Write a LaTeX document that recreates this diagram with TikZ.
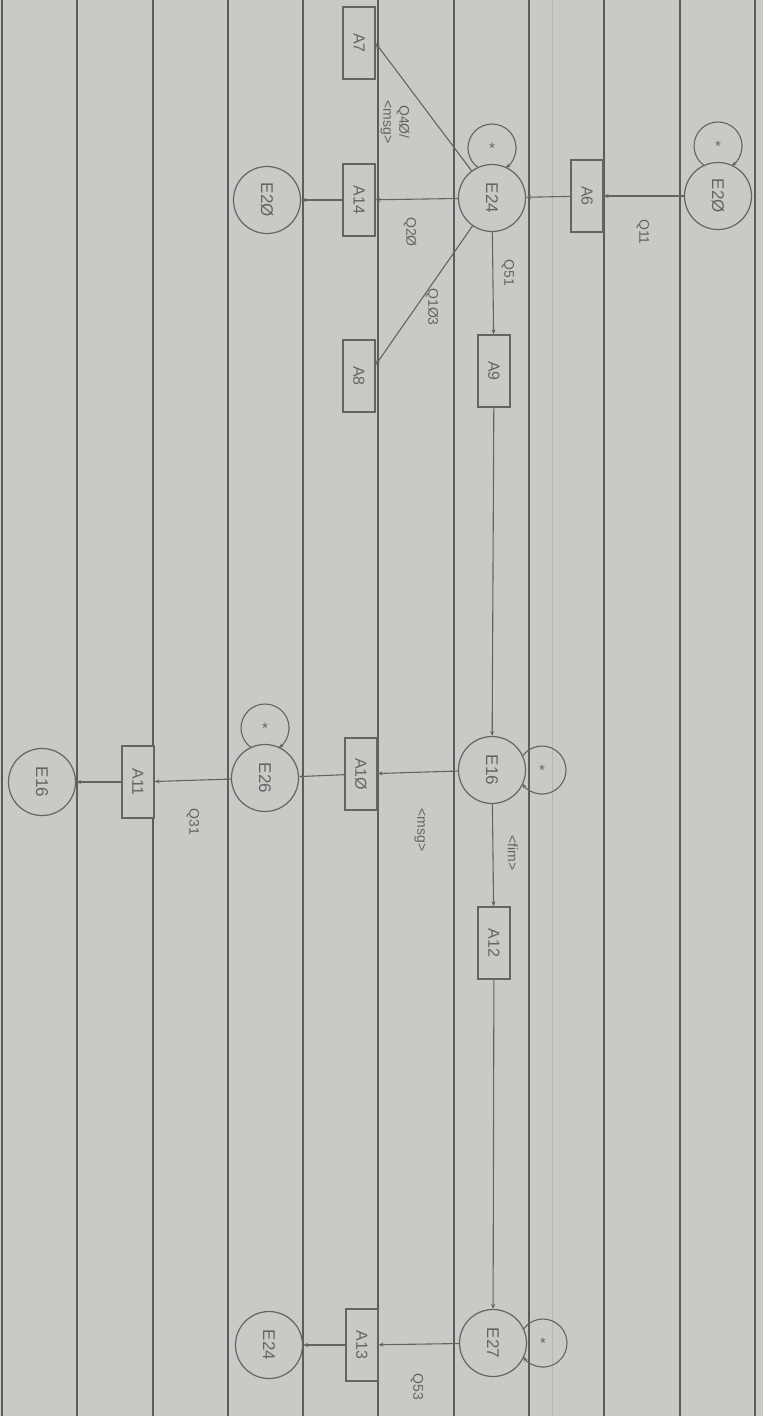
\documentclass[tikz,border=0pt]{standalone}
\usepackage{fontspec}
\usepackage{graphicx}
\setmainfont{Liberation Sans}
\usetikzlibrary{arrows.meta}
\definecolor{paper}{RGB}{201,201,198}
\definecolor{rulec}{RGB}{92,92,92}
\definecolor{faintc}{RGB}{182,182,180}
\definecolor{ink}{RGB}{100,100,100}
\newcommand{\rt}[1]{\rotatebox{-90}{#1}}
\begin{document}
\begin{tikzpicture}[x=1pt,y=-1pt,
  circ/.style={circle,draw=ink,line width=1.2pt,fill=paper,minimum size=67pt,inner sep=0pt,text=ink,font=\fontsize{17}{19}\selectfont},
  actbox/.style={rectangle,draw=ink,line width=1.2pt,fill=paper,minimum width=32pt,minimum height=72pt,inner sep=0pt,text=ink,font=\fontsize{16}{18}\selectfont},
  lab/.style={rotate=-90,text=ink,font=\fontsize{14}{16}\selectfont,inner sep=1pt},
  star/.style={text=ink,font=\fontsize{15}{15}\selectfont,inner sep=0pt},
  conn/.style={draw=ink,line width=1.1pt,-{Stealth[length=5pt,width=4pt]}},
  rulel/.style={draw=rulec,line width=1.3pt},
  faintl/.style={draw=faintc,line width=1pt}]
\fill[paper] (0,0) rectangle (763,1416);
\useasboundingbox (0,0) rectangle (763,1416);
% ruled lines
\foreach \x in {2,77,153,228,303,378,454,529,604,680,755}
  \draw[rulel] (\x,0) -- (\x,1416);
\draw[faintl] (552,0) -- (552,1416);

% nodes
\node[circ] (E20r) at (718,196) {\rt{E2Ø}};
\node[actbox] (A6) at (587,196) {\rt{A6}};
\node[circ] (E24) at (492,198) {\rt{E24}};
\node[actbox] (A14) at (359,200) {\rt{A14}};
\node[circ] (E20l) at (267,200) {\rt{E2Ø}};
\node[actbox] (A7) at (359,43) {\rt{A7}};
\node[actbox] (A8) at (359,376) {\rt{A8}};
\node[actbox] (A9) at (494,371) {\rt{A9}};
\node[circ] (E16) at (492,770) {\rt{E16}};
\node[actbox] (A10) at (361,774) {\rt{A1Ø}};
\node[circ] (E26) at (265,778) {\rt{E26}};
\node[actbox] (A11) at (138,782) {\rt{A11}};
\node[circ] (E16l) at (42,782) {\rt{E16}};
\node[actbox] (A12) at (494,943) {\rt{A12}};
\node[circ] (E27) at (493,1343) {\rt{E27}};
\node[actbox] (A13) at (362,1345) {\rt{A13}};
\node[circ] (E24b) at (269,1345) {\rt{E24}};

% connectors
\draw[conn] (E20r) -- (A6);
\draw[conn] (A6) -- (E24);
\draw[conn] (E24) -- (A14);
\draw[conn] (A14) -- (E20l);
\draw[conn] (E24) -- (A7.east);
\draw[conn] (E24) -- ([yshift=11pt]A8.east);
\draw[conn] (E24) -- (A9);
\draw[conn] (A9) -- (E16);
\draw[conn] (E16) -- (A10);
\draw[conn] (A10) -- (E26);
\draw[conn] (E26) -- (A11);
\draw[conn] (A11) -- (E16l);
\draw[conn] (E16) -- (A12);
\draw[conn] (A12) -- (E27);
\draw[conn] (E27) -- (A13);
\draw[conn] (A13) -- (E24b);

% self loops (up: start offset (-13.4,-30.1); right: (30.1,-13.4))
\path (E20r.center) ++(-13.4,-30.1) coordinate (l1s);
\draw[conn] (l1s) arc[start angle=124,end angle=416,radius=24];
\node[star] (s1) at ([yshift=50pt]E20r.center) {*};
\path (E24.center) ++(-13.4,-30.1) coordinate (l2s);
\draw[conn] (l2s) arc[start angle=124,end angle=416,radius=24];
\node[star] (s2) at ([yshift=50pt]E24.center) {*};
\path (E26.center) ++(-13.4,-30.1) coordinate (l3s);
\draw[conn] (l3s) arc[start angle=124,end angle=416,radius=24];
\node[star] (s3) at ([yshift=50pt]E26.center) {*};
\path (E16.center) ++(30.1,-13.4) coordinate (l4s);
\draw[conn] (l4s) arc[start angle=214,end angle=506,radius=24];
\node[star] (s4) at ([xshift=50pt]E16.center) {*};
\path (E27.center) ++(30.1,-13.4) coordinate (l5s);
\draw[conn] (l5s) arc[start angle=214,end angle=506,radius=24];
\node[star] (s5) at ([xshift=50pt]E27.center) {*};

% labels
\node[lab] (q11) at (643,232) {Q11};
\node[lab,align=center] (q40) at (395,122) {Q4Ø/\\<msg>};
\node[lab] (q20) at (410,232) {Q2Ø};
\node[lab] (q103) at (432,307) {Q1Ø3};
\node[lab] (q51) at (508,273) {Q51};
\node[lab] (msg2) at (420,830) {<msg>};
\node[lab] (fim) at (513,853) {<fim>};
\node[lab] (q31) at (193,822) {Q31};
\node[lab] (q53) at (417,1387) {Q53};
\end{tikzpicture}
\end{document}
